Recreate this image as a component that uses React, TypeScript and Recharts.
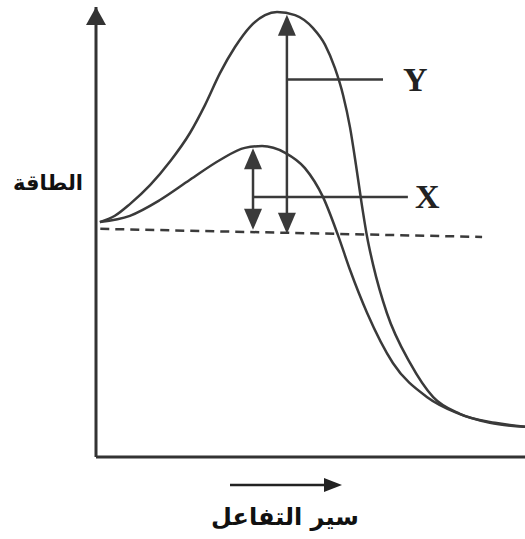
import React from "react";
import {
  ComposedChart,
  Line,
  XAxis,
  YAxis,
  ReferenceLine,
  ReferenceDot,
} from "recharts";

// reaction progress (0-100) and energy (0-100)
const progressX = [0.9, 7.9, 14.9, 21.9, 28.9, 34.7, 38.7, 44.1, 48.7, 52.9, 56.4, 59.2, 63.2, 69.2, 77.2, 84.1, 91.8, 100];
const energyX = [52.2, 53.6, 57.1, 61.6, 66.0, 68.7, 69.1, 67.6, 64.2, 57.8, 49.3, 41.6, 32.0, 20.9, 13.3, 9.8, 7.6, 6.7];

const progressY = [0.9, 4.4, 7.9, 12.6, 17.2, 21.9, 25.4, 28.9, 32.4, 35.9, 39.4, 42.2, 46.4, 50.6, 53.4, 55.7, 57.6, 59.2, 60.6, 61.8, 63.2, 64.6, 67.8, 73.2, 78.6, 84.8, 93.0, 100];
const energyY = [52.2, 53.6, 56.2, 60.4, 65.6, 72.0, 78.2, 85.3, 91.1, 95.6, 98.2, 98.9, 98.2, 95.3, 91.6, 86.4, 80.4, 73.3, 64.9, 57.1, 48.9, 42.7, 32.0, 20.9, 13.3, 9.6, 7.6, 6.7];

// dashed reactant level
const baseProgress = [1, 90];
const baseEnergy = [50.7, 48.9];

// activation energy arrows and their leader lines, in order X, Y
const curveNames = ["X", "Y"];
const arrowProgress = [36.6, 44.5];
const arrowTop = [68.6, 98.3];
const arrowBottom = [50.5, 49.6];
const leaderEnergy = [57.8, 83.9];
const leaderEnd = [72.7, 66.9];

const energyTitle = "الطاقة";
const progressTitle = "سير التفاعل";

const INK = "#3a3a3a";
const AXIS = "#333";

const curveX = progressX.map((p, i) => ({ p, e: energyX[i] }));
const curveY = progressY.map((p, i) => ({ p, e: energyY[i] }));

const DoubleArrow = (props: any) => {
  const { x1, y1, y2 } = props;
  const top = Math.min(y1, y2);
  const bottom = Math.max(y1, y2);
  const hw = 9;
  const hl = 21;
  return (
    <g>
      <line x1={x1} y1={top + 4} x2={x1} y2={bottom - 4} stroke={INK} strokeWidth={2.5} />
      <polygon points={`${x1},${top} ${x1 - hw},${top + hl} ${x1 + hw},${top + hl}`} fill={INK} />
      <polygon points={`${x1},${bottom} ${x1 - hw},${bottom - hl} ${x1 + hw},${bottom - hl}`} fill={INK} />
    </g>
  );
};

const leaderShape = (name: string, gap: number) => (props: any) => (
  <g>
    <line x1={props.x1} y1={props.y1} x2={props.x2} y2={props.y2} stroke={INK} strokeWidth={2.5} />
    <text
      x={props.x2 + gap}
      y={props.y2}
      dominantBaseline="central"
      fontFamily="Liberation Serif"
      fontWeight="bold"
      fontSize={34}
      fill="#222"
    >
      {name}
    </text>
  </g>
);

const AxisHead = (props: any) => {
  const { cx, cy } = props;
  return <polygon points={`${cx},${cy} ${cx - 10},${cy + 18} ${cx + 10},${cy + 18}`} fill={AXIS} />;
};

const EnergyTitle = ({ viewBox }: any) => (
  <text
    x={viewBox.x - 12}
    y={viewBox.y + viewBox.height * 0.39}
    textAnchor="end"
    dominantBaseline="central"
    fontFamily="DejaVu Sans"
    fontWeight="bold"
    fontSize={21}
    fill="#111"
  >
    {energyTitle}
  </text>
);

const ProgressTitle = ({ viewBox }: any) => {
  const cx = viewBox.x + 189;
  const y = viewBox.y + 28;
  return (
    <g>
      <line x1={cx - 55} y1={y} x2={cx + 42} y2={y} stroke="#222" strokeWidth={2.5} />
      <polygon points={`${cx + 57},${y} ${cx + 39},${y - 7} ${cx + 39},${y + 7}`} fill="#222" />
      <text
        x={cx}
        y={y + 40}
        textAnchor="middle"
        fontFamily="DejaVu Sans"
        fontWeight="bold"
        fontSize={24}
        fill="#111"
      >
        {progressTitle}
      </text>
    </g>
  );
};

const App = () => {
  return (
    <div style={{ position: "absolute", left: 0, top: 0, background: "#fff" }}>
      <ComposedChart width={525} height={539} margin={{ top: 7, right: 0, left: 95, bottom: 81 }}>
        <XAxis
          type="number"
          dataKey="p"
          domain={[0, 100]}
          height={1}
          tick={false}
          tickLine={false}
          axisLine={{ stroke: AXIS, strokeWidth: 3 }}
          label={ProgressTitle}
        />
        <YAxis
          type="number"
          dataKey="e"
          domain={[0, 100]}
          width={1}
          tick={false}
          tickLine={false}
          axisLine={{ stroke: AXIS, strokeWidth: 3 }}
          label={EnergyTitle}
        />
        <ReferenceDot x={0} y={100} r={0} shape={AxisHead} ifOverflow="visible" />
        <ReferenceLine
          segment={[
            { x: baseProgress[0], y: baseEnergy[0] },
            { x: baseProgress[1], y: baseEnergy[1] },
          ]}
          stroke={INK}
          strokeWidth={2.5}
          strokeDasharray="9 6"
        />
        <Line data={curveY} dataKey="e" type="monotone" stroke={INK} strokeWidth={2.5} dot={false} isAnimationActive={false} />
        <Line data={curveX} dataKey="e" type="monotone" stroke={INK} strokeWidth={2.5} dot={false} isAnimationActive={false} />
        {curveNames.map((name, i) => (
          <ReferenceLine
            key={"arrow" + name}
            segment={[
              { x: arrowProgress[i], y: arrowTop[i] },
              { x: arrowProgress[i], y: arrowBottom[i] },
            ]}
            shape={DoubleArrow}
          />
        ))}
        {curveNames.map((name, i) => (
          <ReferenceLine
            key={"leader" + name}
            segment={[
              { x: arrowProgress[i], y: leaderEnergy[i] },
              { x: leaderEnd[i], y: leaderEnergy[i] },
            ]}
            shape={leaderShape(name, name === "Y" ? 20 : 7)}
          />
        ))}
      </ComposedChart>
    </div>
  );
};

export default App;
